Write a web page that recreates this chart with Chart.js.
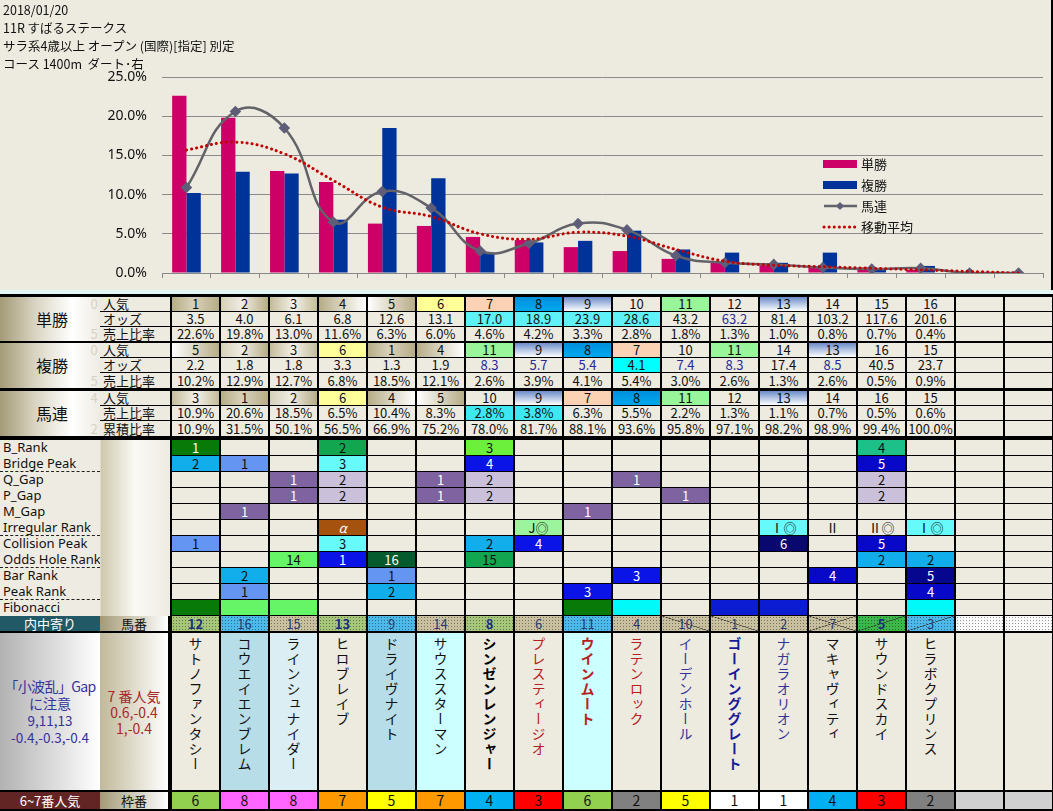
<!DOCTYPE html>
<html lang="ja">
<head>
<meta charset="utf-8">
<script src="https://cdn.jsdelivr.net/npm/chart.js@4.4.1/dist/chart.umd.min.js"></script>
<style>
  html, body { margin: 0; padding: 0; }
  body { width: 1053px; height: 811px; position: relative; overflow: hidden; background: #000;
         font-family: "Noto Sans CJK JP", "Noto Sans", sans-serif; }
  #top { position: absolute; left: 0; top: 0; width: 1051px; height: 290px; background: #EDEAE0; }
  #chart { position: absolute; left: 0; top: 0; }
  #title { position: absolute; left: 3px; top: 1px; font-size: 12.5px; line-height: 18px; color: #111; }
  #strip { position: absolute; left: 0; top: 290px; width: 1053px; height: 4px; background: #E2F6F6; }
  .c { position: absolute; box-sizing: border-box; text-align: center; background: #EDEAE0;
       font-size: 13px; overflow: hidden; white-space: nowrap; color: #111; }
  .v { writing-mode: vertical-rl; text-orientation: upright; font-size: 14px; letter-spacing: 1px;
       line-height: 1; margin: 4px auto 0; }
</style>
</head>
<body>
<div id="top">
  <canvas id="chart" width="1051" height="290"></canvas>
  <div id="title">2018/01/20<br>11R すばるステークス<br>サラ系4歳以上 オープン (国際)[指定] 別定<br>コース 1400m&nbsp; ダート･右</div>
</div>
<div id="strip"></div>
<div id="sheet"></div>
<script>
// chart slots (16 horses + 2 empty)
const slots = ["1", "2", "3", "4", "5", "6", "7", "8", "9", "10", "11", "12", "13", "14", "15", "16", "17", "18"];

// 単勝
const tanPop = [1, 2, 3, 4, 5, 6, 7, 8, 9, 10, 11, 12, 13, 14, 15, 16];
const tanOdds = [3.5, 4.0, 6.1, 6.8, 12.6, 13.1, 17.0, 18.9, 23.9, 28.6, 43.2, 63.2, 81.4, 103.2, 117.6, 201.6];
const tanShare = [22.6, 19.8, 13.0, 11.6, 6.3, 6.0, 4.6, 4.2, 3.3, 2.8, 1.8, 1.3, 1.0, 0.8, 0.7, 0.4];
// 複勝
const fukuPop = [5, 2, 3, 6, 1, 4, 11, 9, 8, 7, 10, 11, 14, 13, 16, 15];
const fukuOdds = [2.2, 1.8, 1.8, 3.3, 1.3, 1.9, 8.3, 5.7, 5.4, 4.1, 7.4, 8.3, 17.4, 8.5, 40.5, 23.7];
const fukuShare = [10.2, 12.9, 12.7, 6.8, 18.5, 12.1, 2.6, 3.9, 4.1, 5.4, 3.0, 2.6, 1.3, 2.6, 0.5, 0.9];
// 馬連
const umaPop = [3, 1, 2, 6, 4, 5, 10, 9, 7, 8, 11, 12, 13, 14, 16, 15];
const umaShare = [10.9, 20.6, 18.5, 6.5, 10.4, 8.3, 2.8, 3.8, 6.3, 5.5, 2.2, 1.3, 1.1, 0.7, 0.5, 0.6];
const umaCum = [10.9, 31.5, 50.1, 56.5, 66.9, 75.2, 78.0, 81.7, 88.1, 93.6, 95.8, 97.1, 98.2, 98.9, 99.4, 100.0];
const umaLine = [10.9, 20.6, 18.5, 6.5, 10.4, 8.3, 2.8, 3.8, 6.3, 5.5, 2.2, 1.3, 1.1, 0.7, 0.5, 0.6, 0, 0];
const movingAvg = [15.7, 16.7, 15.2, 11.8, 8.4, 7.2, 5.0, 4.3, 5.2, 4.7, 3.0, 1.5, 1.0, 0.8, 0.6, 0.4, 0.2, 0.0];
const yTicks = [0, 5, 10, 15, 20, 25];

// highlighted odds cells (column indexes)
const tanOddsCyan = [6, 7, 8, 9];
const tanOddsBlue = [11];
const fukuOddsCyan = [9];
const fukuOddsBlue = [6, 7, 8, 10, 11, 13];
const umaShareCyan = [6, 7];

// rank rows
const rankLabels = ["B_Rank", "Bridge Peak", "Q_Gap", "P_Gap", "M_Gap", "Irregular Rank", "Collision Peak", "Odds Hole Rank", "Bar Rank", "Peak Rank", "Fibonacci"];
const bRank =        ["1", "", "", "2", "", "", "3", "", "", "", "", "", "", "", "4", ""];
const bridgePeak =   ["2", "1", "", "3", "", "", "4", "", "", "", "", "", "", "", "5", ""];
const qGap =         ["", "", "1", "2", "", "1", "2", "", "", "1", "", "", "", "", "2", ""];
const pGap =         ["", "", "1", "2", "", "1", "2", "", "", "", "1", "", "", "", "2", ""];
const mGap =         ["", "1", "", "", "", "", "", "", "1", "", "", "", "", "", "", ""];
const irregular =    ["", "", "", "α", "", "", "", "J◎", "", "", "", "", "Ⅰ◎", "Ⅱ", "Ⅱ◎", "Ⅰ◎"];
const collision =    ["1", "", "", "3", "", "", "2", "4", "", "", "", "", "6", "", "5", ""];
const oddsHole =     ["", "", "14", "1", "16", "", "15", "", "", "", "", "", "", "", "2", "2"];
const barRank =      ["", "2", "", "", "1", "", "", "", "", "3", "", "", "", "4", "", "5"];
const peakRank =     ["", "1", "", "", "2", "", "", "", "3", "", "", "", "", "", "", "4"];
const fibonacci =    [1, 2, 2, 0, 0, 0, 0, 0, 1, 3, 0, 4, 4, 0, 0, 3];

// horses
const horseNo = [12, 16, 15, 13, 9, 14, 8, 6, 11, 4, 10, 1, 2, 7, 5, 3];
const frameNo = [6, 8, 8, 7, 5, 7, 4, 3, 6, 2, 5, 1, 1, 4, 3, 2];
const horseNames = ["サトノファンタシー", "コウエイエンブレム", "ラインシュナイダー", "ヒロブレイブ", "ドライヴナイト",
  "サウススターマン", "シンゼンレンジャー", "プレスティージオ", "ウインムート", "ラテンロック", "イーデンホール",
  "ゴーインググレート", "ナガラオリオン", "マキャヴィティ", "サウンドスカイ", "ヒラボクプリンス"];
const noteLeft = ["「小波乱」Gap", "に注意", "9,11,13", "-0.4,-0.3,-0.4"];
const noteRight = ["7 番人気", "0.6,-0.4", "1,-0.4"];

// ---------- chart ----------
const legendPlugin = {
  id: "sideLegend",
  afterDraw(chart) {
    const c = chart.ctx;
    c.save();
    chart.data.datasets.forEach((ds, i) => {
      const y = 164 + i * 21;
      if (ds.type === "line") {
        c.strokeStyle = ds.borderColor;
        c.lineWidth = ds.borderWidth;
        c.lineCap = ds.borderCapStyle || "butt";
        c.setLineDash(ds.borderDash || []);
        c.beginPath(); c.moveTo(824, y); c.lineTo(857, y); c.stroke();
        c.setLineDash([]);
        if (ds.pointRadius) {
          c.fillStyle = ds.pointBackgroundColor;
          c.beginPath(); c.moveTo(840, y - 4); c.lineTo(844, y); c.lineTo(840, y + 4); c.lineTo(836, y); c.fill();
        }
      } else {
        c.fillStyle = ds.backgroundColor;
        c.fillRect(823, y - 4, 34, 8);
      }
      c.fillStyle = "#111";
      c.font = '13px "Noto Sans CJK JP"';
      c.textBaseline = "middle";
      c.fillText(ds.label, 861, y);
    });
    c.restore();
  }
};

new Chart(document.getElementById("chart"), {
  type: "bar",
  data: {
    labels: slots,
    datasets: [
      { label: "単勝", data: tanShare, backgroundColor: "#CC0066", order: 3 },
      { label: "複勝", data: fukuShare, backgroundColor: "#003399", order: 3 },
      { type: "line", label: "馬連", data: umaLine, borderColor: "#626268", borderWidth: 2.5, tension: 0.45,
        pointStyle: "rectRot", pointRadius: 4, pointBackgroundColor: "#5E5E78", pointBorderColor: "#5E5E78", order: 2 },
      { type: "line", label: "移動平均", data: movingAvg, borderColor: "#C00000", borderWidth: 3,
        borderDash: [0.1, 5], borderCapStyle: "round", pointRadius: 0, tension: 0.4, order: 1 },
    ],
  },
  options: {
    responsive: false,
    animation: false,
    layout: { padding: { top: 77, right: 8, left: 0, bottom: 0 } },
    datasets: { bar: { barPercentage: 1, categoryPercentage: 0.585 } },
    plugins: { legend: { display: false }, tooltip: { enabled: false } },
    scales: {
      x: {
        grid: { drawOnChartArea: false, color: "#888", tickLength: 5, offset: true },
        border: { color: "#888" },
        ticks: { display: false },
        afterFit: (s) => { s.height = 17; },
      },
      y: {
        min: 0,
        max: 25,
        afterBuildTicks: (s) => { s.ticks = yTicks.map((v) => ({ value: v })); },
        ticks: { callback: (v) => v.toFixed(1) + "%", color: "#111", font: { size: 14, family: "Noto Sans" }, padding: 0 },
        // transparent tick marks keep the labels clear of the plot
        grid: { color: "#8A8A8A", drawTicks: true, tickLength: 15, tickColor: "rgba(0,0,0,0)" },
        border: { display: false },
        afterFit: (s) => { s.width = 162; },
      },
    },
  },
  plugins: [legendPlugin],
});

// ---------- table ----------
const sheet = document.getElementById("sheet");
function cell(x, y, w, h, text, css) {
  const d = document.createElement("div");
  d.className = "c";
  d.style.cssText = `left:${x}px;top:${y}px;width:${w}px;height:${h}px;line-height:${h}px;${css || ""}`;
  if (text !== undefined && text !== "") d.textContent = text;
  sheet.appendChild(d);
  return d;
}
const colX = (i) => 172 + i * 49;
const COLW = 47;

function popStyle(r) {
  const k = {
    1: "background:linear-gradient(90deg,#B6AC86,#D8D2BA 45%,#B6AC86);",
    2: "background:linear-gradient(90deg,#D6D0B9,#EFECE3 45%,#B6AC86);",
    3: "background:linear-gradient(90deg,#C4BC99,#F3F1EA 50%,#C4BC99);",
    4: "background:linear-gradient(90deg,#B6AC86,#FFFFFF);",
    5: "background:linear-gradient(90deg,#FFFFFF,#B6AC86);",
    6: "background:#FFFF99;",
    7: "background:#FBD3B4;",
    8: "background:linear-gradient(180deg,#0090DC,#00A8EE);",
    9: "background:linear-gradient(180deg,#6C8CC8,#FFFFFF);",
    11: "background:#99F59A;",
    13: "background:linear-gradient(180deg,#6C8CC8,#FFFFFF);",
  };
  return k[r] || "";
}

// top section
const topRows = [[297, 14], [312, 14], [327, 14], [343, 14], [358, 14], [373, 15], [391, 14], [406, 14], [421, 15]];
const groups = [
  ["単勝", 0, ["人気", "オッズ", "売上比率"], ["0", "", "5"]],
  ["複勝", 3, ["人気", "オッズ", "売上比率"], ["0", "", "5"]],
  ["馬連", 6, ["人気", "売上比率", "累積比率"], ["4", "", "2"]],
];
groups.forEach(([name, start, subs, marks]) => {
  const y0 = topRows[start][0];
  const y1 = topRows[start + 2][0] + topRows[start + 2][1];
  cell(0, y0, 100, y1 - y0, name,
    "font-size:16px;padding-left:4px;background:linear-gradient(90deg,#A39A77,#D9D4C2 35%,#FFFFFF 72%,#EEEBE2);");
  subs.forEach((s, k) => {
    const [y, h] = topRows[start + k];
    cell(100, y, 70, h, s, "text-align:left;padding-left:3px;");
    if (marks[k]) cell(88, y, 12, h, marks[k], "background:transparent;color:#D6D2C6;");
  });
});

const pct = (v) => v.toFixed(1) + "%";
const topData = [
  [tanPop, String, (i, v) => popStyle(v)],
  [tanOdds, (v) => v.toFixed(1), (i) => (tanOddsCyan.includes(i) ? "background:#5EF2F8;" : "") + (tanOddsBlue.includes(i) ? "color:#2A2A99;" : "")],
  [tanShare, pct, () => ""],
  [fukuPop, String, (i, v) => popStyle(v)],
  [fukuOdds, (v) => v.toFixed(1), (i) => (fukuOddsCyan.includes(i) ? "background:#00FFFF;" : "") + (fukuOddsBlue.includes(i) ? "color:#2A2A99;" : "")],
  [fukuShare, pct, () => ""],
  [umaPop, String, (i, v) => popStyle(v)],
  [umaShare, pct, (i) => (umaShareCyan.includes(i) ? "background:#3EE8F2;" : "")],
  [umaCum, pct, () => ""],
];
topData.forEach(([vals, fmt, sty], r) => {
  const [y, h] = topRows[r];
  for (let i = 0; i < 18; i++) {
    if (i < vals.length) cell(colX(i), y, COLW, h, fmt(vals[i]), sty(i, vals[i]));
    else cell(colX(i), y, COLW, h, "");
  }
});

// rank section
const rankData = [bRank, bridgePeak, qGap, pGap, mGap, irregular, collision, oddsHole, barRank, peakRank];
const palette = [
  { "1": "#087A08", "2": "#12A650", "3": "#6CF03C", "4": "#1EC08A" },
  { "1": "#6495F2", "2": "#12AEEB", "3": "#66FAFA", "4": "#0A14E6", "5": "#0808C8" },
  { "1": "#7F62A0", "2": "#CBC0DA" },
  { "1": "#7F62A0", "2": "#CBC0DA" },
  { "1": "#7F62A0" },
  { "α": "#A5520E", "J◎": "#9CF59C", "Ⅰ◎": "#66FAFA" },
  { "1": "#6495F2", "2": "#12AEEB", "3": "#66FAFA", "4": "#0A14E6", "5": "#0808C8", "6": "#08086E" },
  { "1": "#0A14E6", "2": "#12AEEB", "14": "#66F566", "15": "#12A650", "16": "#055A2E" },
  { "1": "#6495F2", "2": "#12AEEB", "3": "#0A14E6", "4": "#0808C8", "5": "#06068E" },
  { "1": "#6495F2", "2": "#12AEEB", "3": "#0A14E6", "4": "#0808C8" },
];
const fibColors = ["", "#087A08", "#66F566", "#00FAFA", "#0C1CD2"];
const darkBg = ["#087A08", "#7F62A0", "#A5520E", "#0A14E6", "#0808C8", "#08086E", "#055A2E", "#06068E"];

cell(0, 440, 170, 176, "",
  "background:linear-gradient(90deg,#EEEBE2 0,#EEEBE2 100px,#CFC8AE 101px,#FAF9F5 135px,#EEEBE2 170px);");
rankLabels.forEach((lab, k) => {
  const y = 440 + k * 16;
  cell(0, y, 100, 15, lab, "text-align:left;padding-left:3px;background:transparent;font-family:'Noto Sans';");
  if ([1, 5, 7, 9].includes(k)) cell(0, y + 15, 100, 1, "", "background:transparent;border-top:1px dashed #222;");
  for (let i = 0; i < 18; i++) {
    let text = "";
    let css = "";
    if (i < 16) {
      if (k < 10) {
        text = rankData[k][i];
        const bg = palette[k][text];
        if (bg) css = `background:${bg};` + (darkBg.includes(bg) ? "color:#fff;" : "");
        if (text === "α") css += "font-style:italic;";
      } else if (fibonacci[i]) {
        css = `background:${fibColors[fibonacci[i]]};`;
      }
    }
    cell(colX(i), y, COLW, 15, text, css);
  }
});

// 馬番 row
const dots = "background-image:radial-gradient(circle,rgba(0,0,0,0.4) 0.6px,transparent 0.9px);background-size:3px 3px;";
const noBg = { 12: "#A6C67A", 13: "#A6C67A", 8: "#A6C67A", 5: "#3CB848", 16: "#4DB9EA", 9: "#4DB9EA", 11: "#4DB9EA", 3: "#4DB9EA" };
const noBold = [12, 13, 8, 5];
const crossed = { 10: "\\", 1: "\\", 7: "X", 5: "/", 3: "/" };
cell(0, 616, 100, 15, "内中寄り", "background:#215967;color:#fff;");
cell(100, 616, 68, 15, "馬番", "background:linear-gradient(90deg,#A39A77,#FFFFFF);");
for (let i = 0; i < 18; i++) {
  if (i >= 16) { cell(colX(i), 616, COLW, 15, "", dots + "background-color:#FAFAFA;"); continue; }
  const n = horseNo[i];
  let css = dots + `background-color:${noBg[n] || "#C8C09E"};`;
  css += noBold.includes(n) ? "font-weight:bold;color:#1C2E80;" : "color:#2A3A70;";
  const d = cell(colX(i), 616, COLW, 15, String(n), css);
  const cr = crossed[n];
  if (cr) {
    const lines = [];
    if (cr === "\\" || cr === "X") lines.push("linear-gradient(to bottom left,transparent calc(50% - 0.6px),#333 50%,transparent calc(50% + 0.6px))");
    if (cr === "/" || cr === "X") lines.push("linear-gradient(to top left,transparent calc(50% - 0.6px),#333 50%,transparent calc(50% + 0.6px))");
    d.style.backgroundImage = lines.join(",") + ",radial-gradient(circle,rgba(0,0,0,0.4) 0.6px,transparent 0.9px)";
    d.style.backgroundSize = "100% 100%,".repeat(lines.length) + "3px 3px";
  }
}

// names section
const nameBg = ["", "#B7DDE8", "#DAEEF3", "", "#B7DDE8", "#CCFFFF", "", "", "#CCFFFF"];
const nameColor = ["", "", "", "", "", "", "#000", "#B82020", "#B82020", "#B82020", "#33339A", "#1A1A99", "#33339A"];
const nameBold = [6, 8, 11];
const nl = cell(0, 633, 100, 157, "", "background:linear-gradient(90deg,#B2B2B2,#FFFFFF);display:flex;flex-direction:column;justify-content:center;");
noteLeft.forEach((t, k) => {
  const d = document.createElement("div");
  d.textContent = t;
  d.style.cssText = `line-height:17px;color:#33339A;font-size:${k < 2 ? 14 : 13.5}px;` + (k === 0 ? "letter-spacing:-0.6px;" : "");
  nl.appendChild(d);
});
const nr = cell(100, 633, 68, 157, "", "background:linear-gradient(90deg,#C1B99A,#FFFFFF);display:flex;flex-direction:column;justify-content:center;");
noteRight.forEach((t) => {
  const d = document.createElement("div");
  d.textContent = t;
  d.style.cssText = "line-height:16px;color:#A8282A;font-size:14px;";
  nr.appendChild(d);
});
for (let i = 0; i < 18; i++) {
  const d = cell(colX(i), 633, COLW, 157, "", "line-height:normal;" + (nameBg[i] ? `background:${nameBg[i]};` : ""));
  if (i < 16) {
    const v = document.createElement("div");
    v.className = "v";
    v.textContent = horseNames[i];
    v.style.color = nameColor[i] || "#111";
    if (nameBold.includes(i)) v.style.fontWeight = "bold";
    d.appendChild(v);
  }
}

// 枠番 row
const frameColors = { 1: "#FFFFFF", 2: "#808080", 3: "#FF0000", 4: "#00B0F0", 5: "#FFFF00", 6: "#92D050", 7: "#FF9900", 8: "#FF66FF" };
cell(0, 792, 100, 17, "6~7番人気", "background:#632523;color:#fff;");
cell(100, 792, 68, 17, "枠番", "background:linear-gradient(90deg,#A39A77,#FFFFFF);");
for (let i = 0; i < 18; i++) {
  if (i < 16) cell(colX(i), 792, COLW, 17, String(frameNo[i]), `background:${frameColors[frameNo[i]]};font-size:14px;`);
  else cell(colX(i), 792, COLW, 17, "", "background:#D0D0D0;");
}
</script>
</body>
</html>
